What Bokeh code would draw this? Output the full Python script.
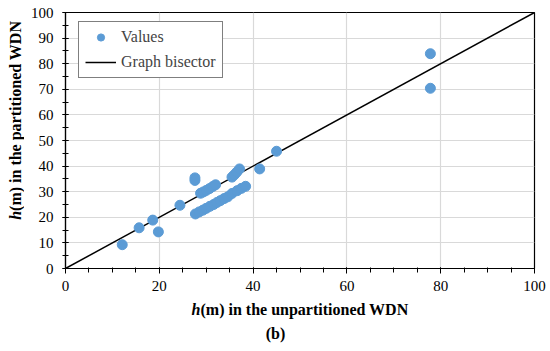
import numpy as np
from bokeh.plotting import figure
from bokeh.layouts import column, row
from bokeh.models import Legend, LegendItem, FixedTicker, Range1d
from bokeh.core.properties import value
from bokeh.embed import file_html
from bokeh.resources import INLINE

# h(m) unpartitioned (x) vs partitioned (y)
x_vals = [12.1, 15.7, 18.6, 19.8, 24.4, 27.6, 27.6,
          28.8, 29.4, 30.0, 30.7, 31.4, 32.0,
          35.5, 36.0, 36.5, 37.1,
          27.7, 28.5, 29.3, 30.0, 30.8, 31.6, 32.3, 33.0, 33.8, 34.6, 35.5, 36.6, 37.5, 38.4,
          41.4, 45.0, 77.8, 77.8]
y_vals = [9.3, 15.9, 18.9, 14.3, 24.7, 35.4, 34.4,
          29.4, 29.9, 30.5, 31.2, 32.0, 32.7,
          35.7, 36.6, 37.6, 38.9,
          21.3, 22.1, 22.8, 23.5, 24.3, 25.0, 25.8, 26.5, 27.3, 28.0, 29.3, 30.4, 31.3, 32.1,
          38.9, 45.8, 83.9, 70.4]
bisector_x = [0, 100]
bisector_y = [0, 100]

x_major = [0, 20, 40, 60, 80, 100]
y_major = [0, 10, 20, 30, 40, 50, 60, 70, 80, 90, 100]
x_minor = list(range(0, 101, 5))
y_minor = list(range(0, 101, 5))

x_title = ["h", "(m) in the unpartitioned WDN"]
y_title = ["h", "(m) in the partitioned WDN"]
caption = "(b)"

FONT = "Liberation Serif"
BLUE = "#5B9BD5"

p = figure(frame_width=469, frame_height=256, output_backend="svg", toolbar_location=None,
           x_range=Range1d(0, 100), y_range=Range1d(0, 100),
           min_border_left=41, min_border_right=14, min_border_top=12, min_border_bottom=30)
p.background_fill_color = "white"
p.border_fill_color = "white"
p.outline_line_color = "black"
p.outline_line_width = 1.2

line = p.line(bisector_x, bisector_y, line_color="black", line_width=1.5)
pts = p.scatter(x_vals, y_vals, size=10, color=BLUE, line_color=BLUE)

for ax, maj, mnr in ((p.xaxis[0], x_major, x_minor), (p.yaxis[0], y_major, y_minor)):
    ax.ticker = FixedTicker(ticks=maj, minor_ticks=mnr)
    ax.axis_line_color = "black"
    ax.axis_line_width = 1.2
    ax.major_tick_line_color = "black"
    ax.minor_tick_line_color = "black"
    ax.major_label_text_font = FONT
    ax.major_label_text_font_size = "15px"
    ax.major_label_text_color = "black"
    ax.axis_label = None

p.xaxis.major_tick_in = 1
p.xaxis.major_tick_out = 5
p.xaxis.minor_tick_in = 1
p.xaxis.minor_tick_out = 4
p.xaxis.major_label_standoff = 7
p.yaxis.major_tick_in = 3
p.yaxis.major_tick_out = 3
p.yaxis.minor_tick_in = 3
p.yaxis.minor_tick_out = 3
p.yaxis.major_label_standoff = 9

p.xgrid.ticker = FixedTicker(ticks=[20, 40, 60, 80])
p.ygrid.ticker = FixedTicker(ticks=y_major[1:-1])
p.xgrid.grid_line_color = "#d9d9d9"
p.ygrid.grid_line_color = "#d9d9d9"
p.xgrid.grid_line_width = 1.2
p.ygrid.grid_line_width = 1.2

legend = Legend(items=[LegendItem(label="Values", renderers=[pts]),
                       LegendItem(label="Graph bisector", renderers=[line])],
                location=(13, 190), border_line_color="black", border_line_width=1.2,
                label_text_font=FONT, label_text_font_size="16px",
                glyph_width=31, glyph_height=18, label_height=18, spacing=7,
                padding=6, margin=0, label_standoff=5, background_fill_alpha=1)
p.add_layout(legend, "center")


def text_panel(w, h):
    f = figure(width=w, height=h, output_backend="svg", toolbar_location=None,
               x_range=Range1d(0, w), y_range=Range1d(0, h),
               x_axis_type=None, y_axis_type=None, min_border=0)
    f.outline_line_color = None
    f.background_fill_color = "white"
    f.border_fill_color = "white"
    f.xgrid.visible = False
    f.ygrid.visible = False
    return f


common = dict(text_font=value(FONT), text_font_size="16px", text_color="black",
              text_baseline="middle")

# y-axis title panel (left)
yp = text_panel(24, 298)
yp.text(x=[15], y=[67], text=[y_title[0]], angle=np.pi / 2, text_align="right",
        text_font_style="bold italic", **common)
yp.text(x=[15], y=[67], text=[y_title[1]], angle=np.pi / 2, text_align="left",
        text_font_style="bold", **common)

# x-axis title + caption panel (bottom)
xp = text_panel(548, 50)
xp.text(x=[200], y=[39], text=[x_title[0]], text_align="right",
        text_font_style="bold italic", **common)
xp.text(x=[200], y=[39], text=[x_title[1]], text_align="left",
        text_font_style="bold", **common)
xp.text(x=[275], y=[15], text=[caption], text_align="center",
        text_font_style="bold", **common)

layout = column(row(yp, p, spacing=0), xp, spacing=0)

open("out.html", "w").write(file_html(layout, INLINE))
